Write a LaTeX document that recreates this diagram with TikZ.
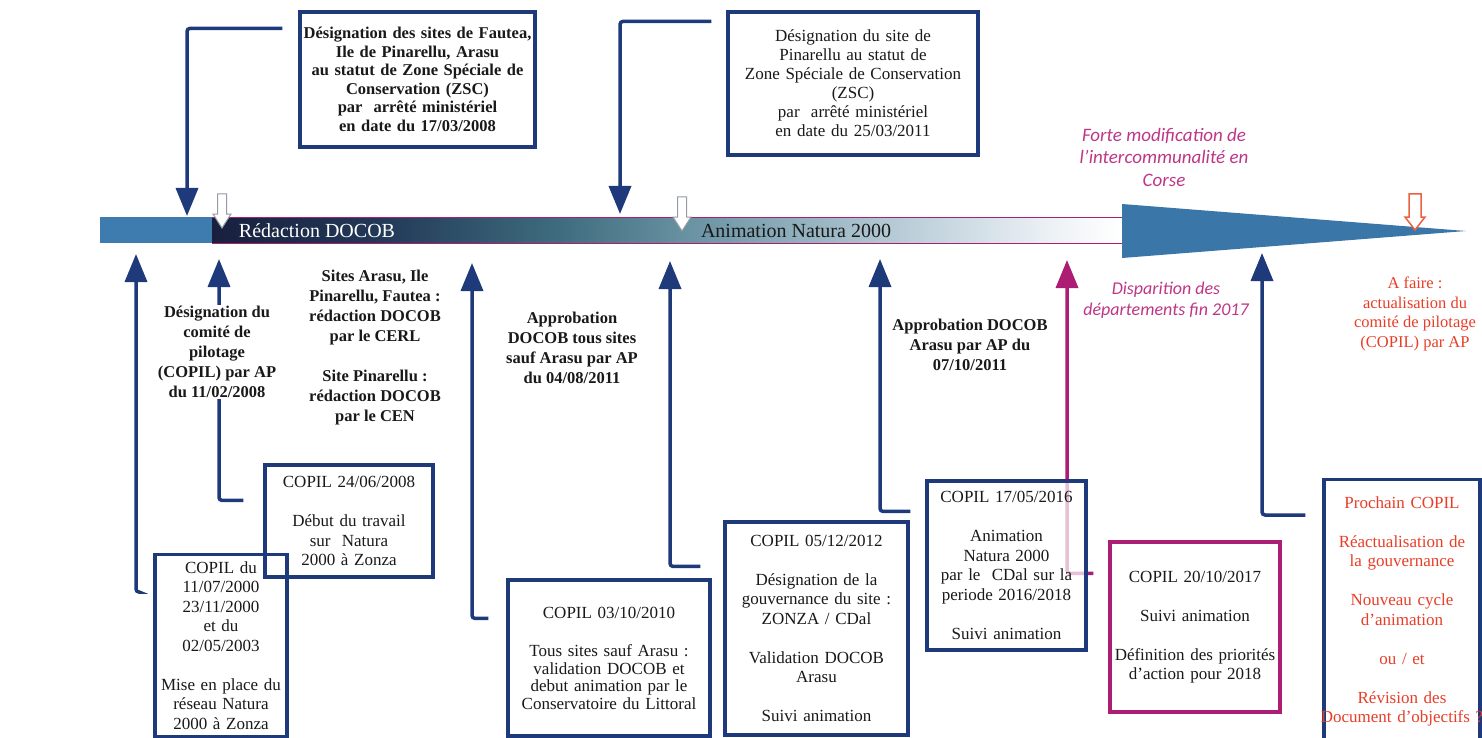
\documentclass[tikz,border=0pt]{standalone}
\usepackage{fontspec}
\setmainfont{Liberation Serif}
\newfontfamily\humsans{Carlito}
\usetikzlibrary{arrows.meta,backgrounds}
\definecolor{mynavy}{RGB}{30,58,122}
\definecolor{mymag}{RGB}{172,30,115}
\definecolor{magtxt}{RGB}{190,55,135}
\definecolor{redtxt}{RGB}{232,62,40}
\definecolor{tri}{RGB}{58,118,168}
\definecolor{bandL}{RGB}{62,124,176}
\definecolor{bandA}{RGB}{24,32,62}
\definecolor{bandB}{RGB}{34,56,86}
\definecolor{bandC}{RGB}{62,108,126}
\definecolor{bandD}{RGB}{110,150,166}
\definecolor{bandE}{RGB}{185,205,216}
\definecolor{bandF}{RGB}{236,241,245}
\definecolor{txt}{RGB}{25,25,25}
\definecolor{hollow}{RGB}{150,155,165}
\definecolor{orng}{RGB}{236,96,64}
\pgfdeclarehorizontalshading{bandshade}{100bp}{color(0bp)=(bandA); color(25bp)=(bandA); color(34bp)=(bandB); color(44bp)=(bandC); color(52bp)=(bandD); color(63bp)=(bandE); color(71bp)=(bandF); color(75bp)=(white); color(100bp)=(white)}
\newcommand\fnt{\fontsize{17}{19.5}\selectfont}
\newcommand\fntb{\fontsize{16.5}{20}\selectfont\bfseries}
\tikzset{
  cbox/.style={draw=mynavy, line width=3.2pt, align=center, inner sep=0pt, font=\fnt, text=txt},
  lbl/.style={align=center, font=\fntb, text=txt, inner sep=1pt},
  conn/.style={draw=mynavy, line width=3.5pt, rounded corners=3pt, -{Triangle[length=28pt,width=22pt]}},
  hollowarr/.style={fill=white, draw=hollow, line width=1pt},
}
\begin{document}
\begin{tikzpicture}[x=1pt,y=-1pt]
\useasboundingbox (0,0) rectangle (1482,738);
\begin{scope}[on background layer]
\fill[white] (0,0) rectangle (1482,738);
\end{scope}

% timeline band
\fill[bandL] (100,217) rectangle (212,243);
\shade[shading=bandshade] (212,217) rectangle (1122,243);
\draw[mymag, line width=1pt] (212,217) -- (1122,217) -- (1122,243) -- (212,243);
\fill[tri] (1122,204) -- (1466,231) -- (1122,258) -- cycle;
\node[font=\fontsize{20}{22}\selectfont, text=white] (redac) at (317,231) {Rédaction DOCOB};
\node[font=\fontsize{20}{22}\selectfont, text=txt] (anim) at (796,231) {Animation Natura 2000};

% hollow arrows
\draw[hollowarr, shift={(222,194)}] (-4.5,0) -- (4.5,0) -- (4.5,20) -- (9,20) -- (0,34) -- (-9,20) -- (-4.5,20) -- cycle;
\draw[hollowarr, shift={(682,197)}] (-4.5,0) -- (4.5,0) -- (4.5,20) -- (9,20) -- (0,34) -- (-9,20) -- (-4.5,20) -- cycle;
\draw[hollowarr, draw=orng, line width=1.5pt, shift={(1415,194)}] (-6,0) -- (6,0) -- (6,23) -- (10,23) -- (0,36) -- (-10,23) -- (-6,23) -- cycle;

% top boxes
\node[cbox, font=\fontsize{16.5}{18.5}\selectfont\bfseries, minimum width=235pt, minimum height=135pt, text width=229pt] (b1) at (417.5,79.5)
 {Désignation des sites de Fautea,\\ Ile de Pinarellu, Arasu\\ au statut de Zone Spéciale de\\ Conservation (ZSC)\\ par~ arrêté ministériel\\ en date du 17/03/2008};
\node[cbox, font=\fontsize{17}{19}\selectfont, minimum width=250pt, minimum height=143pt, text width=242pt] (b2) at (853,83.5)
 {Désignation du site de\\ Pinarellu au statut de\\ Zone Spéciale de Conservation\\ (ZSC)\\ par~ arrêté ministériel\\ en date du 25/03/2011};

% COPIL boxes
\node[cbox, anchor=north, minimum width=132pt, text width=128pt, inner ysep=7pt] (c0) at (221,553)
 {COPIL du\\ 11/07/2000\\ 23/11/2000\\ et du\\ 02/05/2003\\[19.5pt] Mise en place du\\ réseau Natura\\ 2000 à Zonza};
\node[cbox, minimum width=168pt, minimum height=112pt, text width=162pt] (c1) at (349,521)
 {COPIL 24/06/2008\\[19.5pt] Début du travail\\ sur~ Natura\\ 2000 à Zonza};
\node[cbox, font=\fontsize{17}{17.5}\selectfont, minimum width=202pt, minimum height=156pt, text width=196pt] (c2) at (609,658)
 {COPIL 03/10/2010\\[21pt] Tous sites sauf Arasu :\\ validation DOCOB et\\ debut animation par le\\ Conservatoire du Littoral};
\node[cbox, minimum width=183pt, minimum height=213pt, text width=178pt] (c3) at (816.5,628.5)
 {COPIL 05/12/2012\\[19.5pt] Désignation de la\\ gouvernance du site :\\ ZONZA / CDal\\[19.5pt] Validation DOCOB\\ Arasu\\[19.5pt] Suivi animation};
\node[cbox, minimum width=159pt, minimum height=169pt, text width=155pt, fill=white, fill opacity=0.72, text opacity=1, draw opacity=1] (c4) at (1006.5,565.5)
 {COPIL 17/05/2016\\[19.5pt] Animation\\ Natura 2000\\ par le~ CDal sur la\\ periode 2016/2018\\[19.5pt] Suivi animation};
\node[cbox, draw=mymag, minimum width=170pt, minimum height=170pt, text width=166pt] (c5) at (1195,627)
 {COPIL 20/10/2017\\[19.5pt] Suivi animation\\[19.5pt] Définition des priorités\\ d’action pour 2018};
\node[cbox, text=redtxt, anchor=north, minimum width=156pt, text width=156pt, minimum height=264pt] (c6) at (1402,478)
 {Prochain COPIL\\[19.5pt] Réactualisation de\\ la gouvernance\\[19.5pt] Nouveau cycle\\ d’animation\\[19.5pt] ou / et\\[19.5pt] Révision des\\ \makebox[0pt]{Document d’objectifs ?}};

% free labels
\node[lbl, fill=white] (l1) at (217,352) {Désignation du\\ comité de\\ pilotage\\ (COPIL) par AP\\ du 11/02/2008};
\node[lbl] (l2) at (375,348) {Sites Arasu, Ile\\ Pinarellu, Fautea :\\ rédaction DOCOB\\ par le CERL\\[20pt] Site Pinarellu :\\ rédaction DOCOB\\ par le CEN};
\node[lbl] (l3) at (572,348) {Approbation\\ DOCOB tous sites\\ sauf Arasu par AP\\ du 04/08/2011};
\node[lbl] (l4) at (970,345) {Approbation DOCOB\\ Arasu par AP du\\ 07/10/2011};
\node[align=center, text=magtxt, font=\humsans\itshape\fontsize{19}{22.5}\selectfont] (forte) at (1164,157) {Forte modification de\\ l’intercommunalité en\\ Corse};
\node[align=center, text=magtxt, font=\humsans\itshape\fontsize{18}{21}\selectfont] (disp) at (1166,300) {Disparition des\\ départements fin 2017};
\node[align=center, text=redtxt, font=\fontsize{16.5}{19.5}\selectfont] (afaire) at (1415,314) {A faire :\\ actualisation du\\ comité de pilotage\\ (COPIL) par AP};

% connectors
\begin{scope}[on background layer]
\coordinate (t1) at (187,216);
\coordinate (t2) at (620,214);
\coordinate (ta1) at (136,254);
\coordinate (ta2) at (219,259);
\coordinate (ta3) at (472,263);
\coordinate (ta4) at (670,261);
\coordinate (ta5) at (880,259);
\coordinate (ta6) at (1067,260);
\coordinate (ta7) at (1262,253);
\draw[conn] ([xshift=-16pt,yshift=-18pt]b1.north west) -| (t1);
\draw[conn] ([xshift=-15pt,yshift=-11pt]b2.north west) -| (t2);
\draw[conn] ([xshift=-15pt,yshift=-39pt]c0.north west) -| (ta1);
\draw[conn] ([xshift=-20pt,yshift=-37pt]c1.north west) -| (ta2);
\draw[conn] ([xshift=-18pt,yshift=-40pt]c2.north west) -| (ta3);
\draw[conn] ([xshift=-23pt,yshift=-46pt]c3.north west) -| (ta4);
\draw[conn] ([xshift=-15pt,yshift=-32pt]c4.north west) -| (ta5);
\draw[conn, draw=mymag] ([xshift=-15pt,yshift=-33pt]c5.north west) -| (ta6);
\draw[conn] ([xshift=-17pt,yshift=-37pt]c6.north west) -| (ta7);
\end{scope}
\end{tikzpicture}
\end{document}
